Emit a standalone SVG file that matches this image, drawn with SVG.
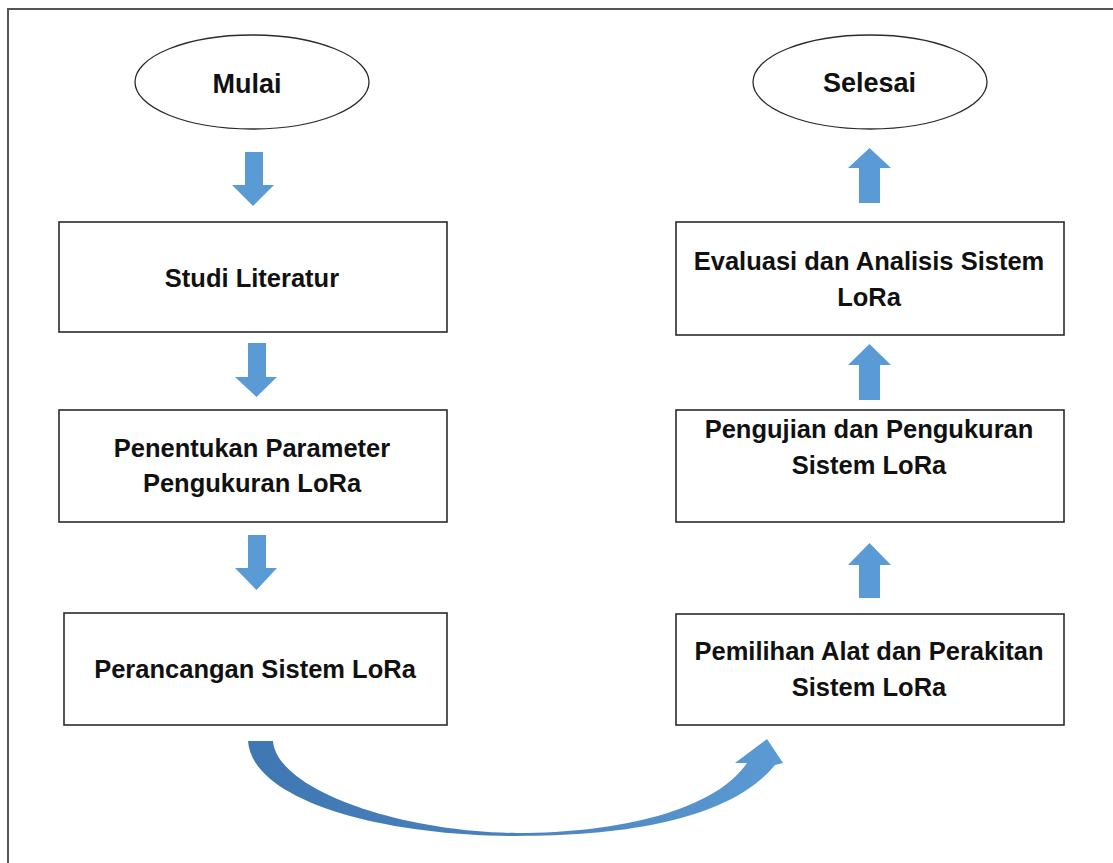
<svg xmlns="http://www.w3.org/2000/svg" width="1113" height="863" viewBox="0 0 1113 863">
<style>
.box{fill:#fff;stroke:#2b2b2b;stroke-width:1.6}
.ell{fill:#fff;stroke:#2b2b2b;stroke-width:1.3}
.t{font-family:"Liberation Sans",Arial,sans-serif;font-weight:bold;font-size:25.5px;fill:#111;text-anchor:middle}
.big{font-size:27px}
.arr{fill:#5b9bd5}
.frame{stroke:#555;stroke-width:2;fill:none}
</style>
<defs>
<linearGradient id="cg" x1="0" y1="0" x2="1" y2="0">
<stop offset="0" stop-color="#3f77b2"/>
<stop offset="0.5" stop-color="#4a82bd"/>
<stop offset="1" stop-color="#5b9bd5"/>
</linearGradient>
</defs>
<rect width="1113" height="863" fill="#fff"/>
<path class="frame" d="M8 863 V9 H1113"/>
<g id="mulai"><ellipse class="ell" cx="252" cy="82" rx="117" ry="47"/><text class="t big" x="247" y="93">Mulai</text></g>
<g id="studi"><rect class="box" x="59" y="222" width="388" height="110"/><text class="t" x="252" y="287">Studi Literatur</text></g>
<g id="penentukan"><rect class="box" x="59" y="410" width="388" height="112"/><text class="t" x="252" y="457">Penentukan Parameter</text><text class="t" x="252" y="492">Pengukuran LoRa</text></g>
<g id="perancangan"><rect class="box" x="64" y="613" width="383" height="112"/><text class="t" x="255" y="678">Perancangan Sistem LoRa</text></g>
<g id="pemilihan"><rect class="box" x="676" y="614" width="388" height="111"/><text class="t" x="869" y="660">Pemilihan Alat dan Perakitan</text><text class="t" x="869" y="696">Sistem LoRa</text></g>
<g id="pengujian"><rect class="box" x="676" y="410" width="388" height="112"/><text class="t" x="869" y="438">Pengujian dan Pengukuran</text><text class="t" x="869" y="474">Sistem LoRa</text></g>
<g id="evaluasi"><rect class="box" x="676" y="222" width="388" height="113"/><text class="t" x="869" y="270">Evaluasi dan Analisis Sistem</text><text class="t" x="869" y="306">LoRa</text></g>
<g id="selesai"><ellipse class="ell" cx="870" cy="82" rx="117" ry="47"/><text class="t big" x="869.5" y="92">Selesai</text></g>
<g id="connectors">
<polygon class="arr" points="245,152 263,152 263,185 274,185 253,206 232,185 245,185"/>
<polygon class="arr" points="248,343 266,343 266,377 277,377 256.5,397 235,377 248,377"/>
<polygon class="arr" points="248,535 266,535 266,568 277,568 256.5,590 235,568 248,568"/>
<polygon class="arr" points="859,203 880,203 880,168 891,168 869.5,148 848,168 859,168"/>
<polygon class="arr" points="859,400 880,400 880,365 891,365 869.5,344 848,365 859,365"/>
<polygon class="arr" points="859,598 880,598 880,565 891,565 869.5,543 848,565 859,565"/>
<path fill="url(#cg)" d="M248 741 L273 741 C277 790 400 832 517 833 C620 833 715 810 747 763 L735 763 L767 739 L783 763 L775 765 C730 820 625 836 517 836 C380 836 252 800 248 741 Z"/>
</g>
</svg>
